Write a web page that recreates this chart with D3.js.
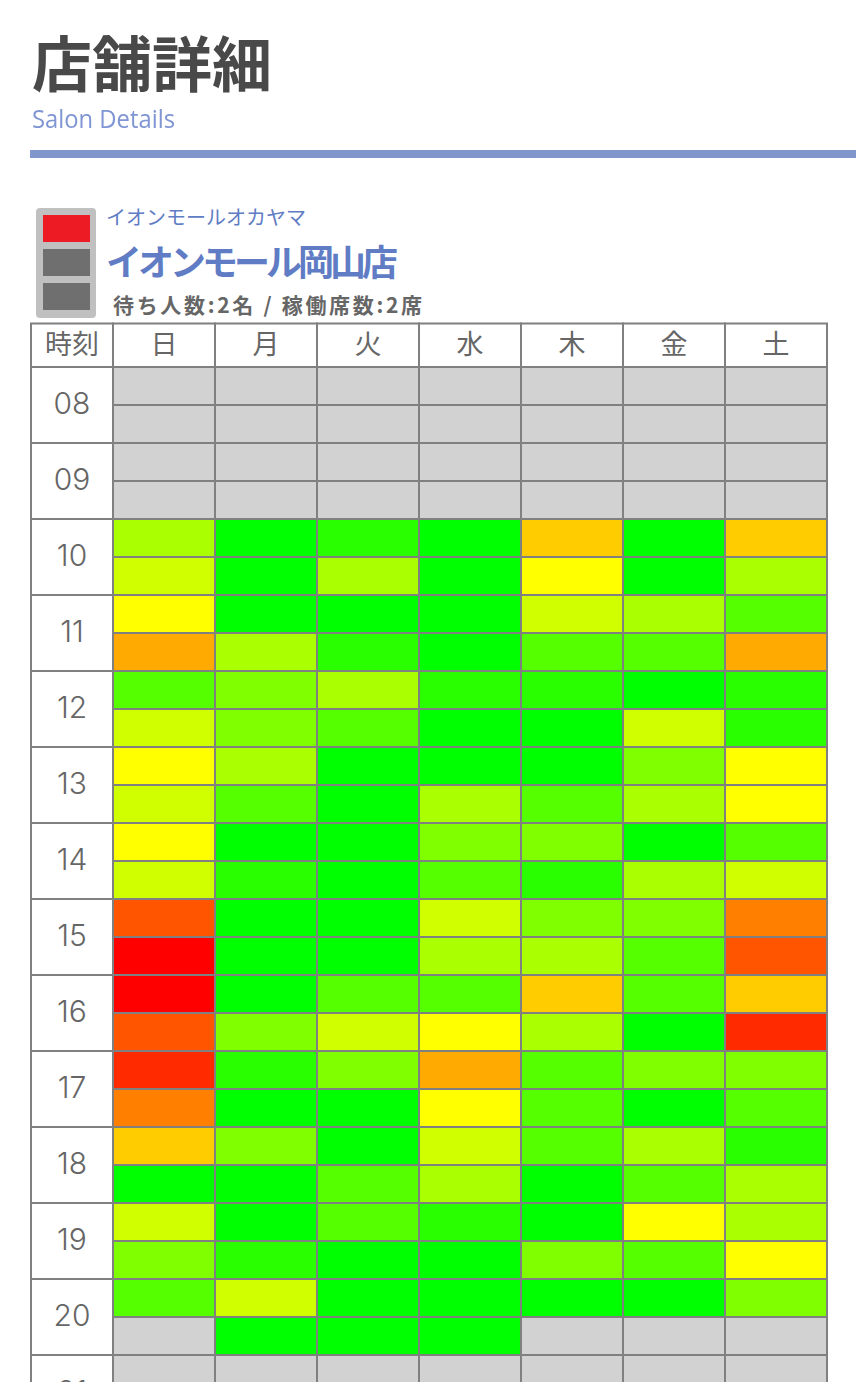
<!DOCTYPE html>
<html><head><meta charset="utf-8">
<script src="https://cdn.jsdelivr.net/npm/d3@7"></script>
<style>html,body{margin:0;padding:0;background:#fff;overflow:hidden}svg{display:block}</style>
</head><body><svg id="c" width="856" height="1382"></svg>
<script>
const days = ["日","月","火","水","木","金","土"];
const hours = ["08","09","10","11","12","13","14","15","16","17","18","19","20","21"];
const N = null;
const h08 = [[N,N,N,N,N,N,N],[N,N,N,N,N,N,N]];
const h09 = [[N,N,N,N,N,N,N],[N,N,N,N,N,N,N]];
const h10 = [[4,0,1,0,7,0,7],[5,0,4,0,6,0,4]];
const h11 = [[6,0,0,0,5,4,2],[8,4,1,0,2,2,8]];
const h12 = [[2,3,4,1,1,0,1],[5,3,2,0,0,5,1]];
const h13 = [[6,4,0,0,0,3,6],[5,2,0,4,2,4,6]];
const h14 = [[6,0,0,3,3,0,2],[5,1,0,2,1,4,5]];
const h15 = [[10,0,0,5,3,3,9],[12,0,0,4,4,2,10]];
const h16 = [[12,0,2,2,7,2,7],[10,3,5,6,4,0,11]];
const h17 = [[11,1,3,8,2,3,3],[9,0,0,6,2,0,2]];
const h18 = [[7,3,0,5,2,4,1],[0,0,2,4,0,2,4]];
const h19 = [[5,0,2,1,0,6,4],[3,1,0,0,3,2,6]];
const h20 = [[2,5,0,0,0,0,3],[N,0,0,0,N,N,N]];
const h21 = [[N,N,N,N,N,N,N],[N,N,N,N,N,N,N]];
const slots = [h08,h09,h10,h11,h12,h13,h14,h15,h16,h17,h18,h19,h20,h21].flat();
const levelColors = ["#00ff00","#2aff00","#55ff00","#80ff00","#aaff00","#d0ff00","#ffff00","#ffcc00","#ffaa00","#ff8000","#ff5500","#ff2a00","#ff0000"];
const headerLabel = "時刻";
const titleText = "店舗詳細", subtitleText = "Salon Details";
const kanaText = "イオンモールオカヤマ", nameText = "イオンモール岡山店";
const statusText = "待ち人数:2名 / 稼働席数:2席";
const lampStates = [1,0,0];

const JP = "'Noto Sans CJK JP','Noto Sans',sans-serif";
const svg = d3.select("#c");
const defs = svg.append("defs");
defs.append("filter").attr("id","soft").append("feGaussianBlur").attr("stdDeviation",0.7);

// heading
svg.append("text").attr("x",32).attr("y",87).attr("filter","url(#soft)")
  .attr("font-family",JP).attr("font-weight",700).attr("font-size",60).attr("fill","#484848").text(titleText);
svg.append("text").attr("x",32).attr("y",128).attr("filter","url(#soft)")
  .attr("font-family","'Open Sans',sans-serif").attr("font-size",25.5).attr("fill","#7f95d4")
  .attr("textLength",143).attr("lengthAdjust","spacingAndGlyphs").text(subtitleText);
svg.append("rect").attr("x",30).attr("y",150).attr("width",826).attr("height",8).attr("fill","#8096cc");

// lamp
svg.append("rect").attr("x",36).attr("y",208).attr("width",60).attr("height",110).attr("rx",4).attr("fill","#c0c0c0");
const lampY = d3.scaleBand().domain(lampStates.map((_,i)=>i)).range([215,310]).paddingInner(7/34);
svg.selectAll(".lamp").data(lampStates).join("rect").attr("class","lamp")
  .attr("x",43).attr("width",47).attr("y",(d,i)=>lampY(i)).attr("height",lampY.bandwidth())
  .attr("fill",d=>d?"#ed1c24":"#6f6f6f");

// store text
svg.append("text").attr("x",106).attr("y",225).attr("font-family",JP).attr("font-size",20).attr("fill","#5f7cc4").text(kanaText);
svg.append("text").attr("x",106).attr("y",276).attr("font-family",JP).attr("font-weight",700).attr("font-size",36)
  .attr("letter-spacing",-4).attr("fill","#5f7cc4").text(nameText);
svg.append("text").attr("x",113).attr("y",313).attr("font-family",JP).attr("font-weight",700).attr("font-size",21)
  .attr("fill","#666").attr("textLength",309).attr("lengthAdjust","spacing").text(statusText);

// table
const x = d3.scaleBand().domain(days).range([113,827]);
const y = d3.scaleBand().domain(d3.range(slots.length)).range([367,367+38*slots.length]);
const line = "#808080";

const cells = slots.flatMap((row,r)=>row.map((v,c)=>({r,c,v})));
svg.selectAll(".cell").data(cells).join("rect").attr("class","cell")
  .attr("x",d=>x(days[d.c])).attr("y",d=>y(d.r)).attr("width",x.bandwidth()).attr("height",y.bandwidth())
  .attr("fill",d=>d.v===null?"#d2d2d2":levelColors[d.v])
  .attr("stroke",line).attr("stroke-width",2);

// header row
svg.append("rect").attr("x",31).attr("y",323.5).attr("width",82).attr("height",43.5).attr("fill","#fff").attr("stroke",line).attr("stroke-width",2);
svg.selectAll(".dh").data(days).join("rect").attr("class","dh")
  .attr("x",d=>x(d)).attr("y",323.5).attr("width",x.bandwidth()).attr("height",43.5)
  .attr("fill","#fff").attr("stroke",line).attr("stroke-width",2);
svg.append("text").attr("x",72).attr("y",354).attr("text-anchor","middle").attr("font-family",JP).attr("font-size",27).attr("fill","#666").text(headerLabel);
svg.selectAll(".dt").data(days).join("text").attr("class","dt")
  .attr("x",d=>x(d)+x.bandwidth()/2).attr("y",354).attr("text-anchor","middle")
  .attr("font-family",JP).attr("font-size",27).attr("fill","#666").text(d=>d);

// hour column
svg.selectAll(".hc").data(hours).join("rect").attr("class","hc")
  .attr("x",31).attr("y",(d,i)=>y(i*2)).attr("width",82).attr("height",y.bandwidth()*2)
  .attr("fill","#fff").attr("stroke",line).attr("stroke-width",2);
svg.selectAll(".ht").data(hours).join("text").attr("class","ht")
  .attr("x",72).attr("y",(d,i)=>y(i*2)+y.bandwidth()+8.5).attr("text-anchor","middle")
  .attr("font-family","Inter,Roboto,sans-serif").attr("font-weight",300).attr("font-size",30).attr("fill","#666").text(d=>d);
</script></body></html>
